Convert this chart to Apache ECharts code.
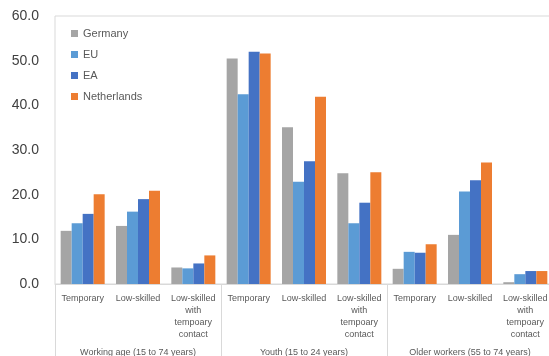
<!DOCTYPE html>
<html><head><meta charset="utf-8">
<script src="https://cdn.jsdelivr.net/npm/echarts@6/dist/echarts.min.js"></script>
<style>html,body{margin:0;padding:0;background:#fff}#c{width:549px;height:356px}</style>
</head><body><div id="c"></div>
<script>
const categories = ['Temporary','Low-skilled','Low-skilled\nwith\ntempoary\ncontact','Temporary','Low-skilled','Low-skilled\nwith\ntempoary\ncontact','Temporary','Low-skilled','Low-skilled\nwith\ntempoary\ncontact'];
const groups = ['Working age (15 to 74 years)','Youth (15 to 24 years)','Older workers (55 to 74 years)'];
const germany = [11.9,13.0,3.7,50.5,35.1,24.8,3.4,11.0,0.4];
const eu = [13.6,16.2,3.5,42.5,22.9,13.6,7.2,20.7,2.2];
const ea = [15.7,19.0,4.6,52.0,27.5,18.2,7.0,23.2,2.9];
const netherlands = [20.1,20.9,6.4,51.6,41.9,25.0,8.9,27.2,2.9];
const seriesNames = ['Germany','EU','EA','Netherlands'];
const colors = ['#A5A5A5','#5B9BD5','#4472C4','#ED7D31'];
const dataSets = [germany, eu, ea, netherlands];

const chart = echarts.init(document.getElementById('c'), null, {renderer:'canvas'});
chart.setOption({
  animation:false,
  textStyle:{fontFamily:'Liberation Sans, Arial, sans-serif'},
  grid:{left:55, top:16, width:498, height:268, show:true, borderColor:'#d9d9d9', borderWidth:1, outerBoundsMode:'none', containLabel:false},
  legend:{
    orient:'vertical', left:66, top:23, itemWidth:7, itemHeight:7, itemGap:10,
    icon:'rect',
    textStyle:{fontSize:11, color:'#595959'},
    data:seriesNames
  },
  xAxis:[
    {type:'category', data:categories, position:'bottom',
     axisLine:{lineStyle:{color:'#d9d9d9'}}, axisTick:{show:false},
     axisLabel:{interval:0, fontSize:9, color:'#595959', lineHeight:12, margin:9}},
    {type:'category', data:groups, position:'bottom', gridIndex:0,
     axisLine:{show:false},
     axisTick:{show:true, length:72, interval:0, lineStyle:{color:'#d9d9d9'}},
     axisLabel:{interval:0, fontSize:9, color:'#595959', margin:64}}
  ],
  yAxis:{type:'value', min:0, max:60, interval:10,
    axisLine:{show:false}, axisTick:{show:false}, splitLine:{show:false},
    axisLabel:{formatter:v=>v.toFixed(1), fontSize:14, color:'#404040', margin:16}},
  series: seriesNames.map((n,i)=>({
    name:n, type:'bar', xAxisIndex:0, data:dataSets[i], barWidth:11, barGap:'0%',
    itemStyle:{color:colors[i]}
  }))
});
</script></body></html>
